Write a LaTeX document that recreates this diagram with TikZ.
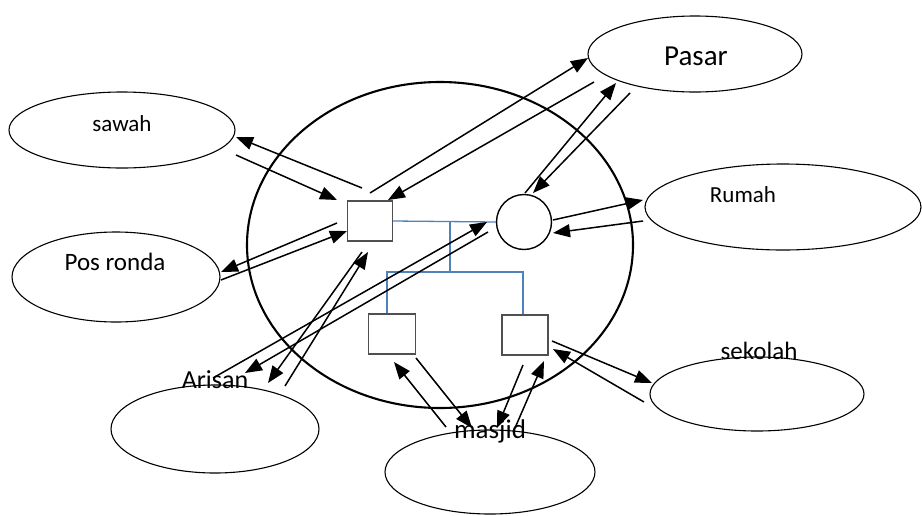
\documentclass[tikz,border=0pt]{standalone}
\usepackage{fontspec}
\setmainfont{Carlito}
\usetikzlibrary{shapes.geometric,arrows.meta}
\definecolor{kinblue}{RGB}{79,129,189}
\definecolor{boxgray}{RGB}{80,80,80}
\begin{document}
\begin{tikzpicture}[x=1pt,y=-1pt,
  place/.style={draw,ellipse,line width=1.1pt,inner sep=0pt},
  lbl/.style={anchor=base,inner sep=0pt},
  male/.style={draw=boxgray,line width=1.4pt,minimum width=45pt,minimum height=40pt,inner sep=0pt},
  female/.style={draw,circle,line width=1.4pt,minimum size=55pt,inner sep=0pt},
  kin/.style={draw=kinblue,line width=1.3pt},
  flow/.style={line width=1.5pt,-{Triangle[length=17pt,width=13pt]}}]
\useasboundingbox (0,0) rectangle (922,515);

% family boundary
\node[draw,ellipse,line width=2.1pt,inner sep=0pt,minimum width=386pt,minimum height=326pt] (fam) at (440,245) {};

% places
\node[place,minimum width=226pt,minimum height=76pt] (sawah) at (122,130) {};
\node[place,minimum width=208pt,minimum height=90pt] (pos) at (116,277) {};
\node[place,minimum width=214pt,minimum height=76pt] (pasar) at (695,54) {};
\node[place,minimum width=276pt,minimum height=86pt] (rumah) at (783,207) {};
\node[place,minimum width=214pt,minimum height=74pt] (sekolah) at (757,394) {};
\node[place,minimum width=208pt,minimum height=88pt] (arisan) at (215,429) {};
\node[place,minimum width=210pt,minimum height=84pt] (masjid) at (490,472) {};

% family members
\node[male] (father) at (370,221) {};
\node[female] (mother) at (524,222) {};
\node[male,minimum width=47pt] (child1) at (392,334) {};
\node[male,minimum width=46pt] (child2) at (525,335) {};

% kinship lines
\coordinate (mid) at (450,221);
\coordinate (sib) at (450,272);
\coordinate (j1) at (387,272);
\coordinate (j2) at (523,272);
\draw[kin] (father.east) -- (mother.west);
\draw[kin] (mid) -- (sib);
\draw[kin] (j1 |- child1.north) -- (j1) -- (j2) -- (j2 |- child2.north);

% labels
\node[lbl,font=\fontsize{23}{23}\selectfont] (tsawah) at (122,131) {sawah};
\node[lbl,font=\fontsize{25}{25}\selectfont] (tpos) at (115,270) {Pos ronda};
\node[lbl,font=\fontsize{29}{29}\selectfont] (tpasar) at (696,65) {Pasar};
\node[lbl,font=\fontsize{23}{23}\selectfont] (trumah) at (743,202) {Rumah};
\node[lbl,font=\fontsize{25}{25}\selectfont] (tsekolah) at (759,359) {sekolah};
\node[lbl,font=\fontsize{26}{26}\selectfont] (tarisan) at (215,388) {Arisan};
\node[lbl,font=\fontsize{27}{27}\selectfont] (tmasjid) at (490,438) {masjid};

% connector end points
\coordinate (fSa) at (362,188);  \coordinate (Saf) at (236,137);
\coordinate (SaF) at (236,155);  \coordinate (fSb) at (337,200);
\coordinate (fPa) at (370,193);  \coordinate (Paf) at (588,58);
\coordinate (PaF) at (594,82);   \coordinate (fPb) at (388,200);
\coordinate (mPa) at (525,193);  \coordinate (Pam) at (616,83);
\coordinate (PaM) at (630,93);   \coordinate (mPb) at (533,193);
\coordinate (mRa) at (553,220);  \coordinate (Ram) at (643,200);
\coordinate (RaM) at (643,221);  \coordinate (mRb) at (553,233);
\coordinate (fPoa) at (337,223); \coordinate (Pof) at (221,272);
\coordinate (PoF) at (221,280);  \coordinate (fPob) at (347,231);
\coordinate (fAa) at (362,252);  \coordinate (Af) at (268,383);
\coordinate (AF) at (285,386);   \coordinate (fAb) at (368,252);
\coordinate (AM) at (213,378);   \coordinate (mAb) at (487,222);
\coordinate (mAa) at (488,232);  \coordinate (Am) at (245,373);
\coordinate (c1Ma) at (416,358); \coordinate (Mc1) at (472,428);
\coordinate (MC1) at (446,427);  \coordinate (c1Mb) at (394,362);
\coordinate (c2Ma) at (523,365); \coordinate (Mc2) at (497,428);
\coordinate (MC2) at (515,428);  \coordinate (c2Mb) at (544,361);
\coordinate (c2Sa) at (552,341); \coordinate (Sc2) at (652,383);
\coordinate (SC2) at (644,402);  \coordinate (c2Sb) at (553,349);

% connectors
\draw[flow] (fSa) -- (Saf);
\draw[flow] (SaF) -- (fSb);
\draw[flow] (fPa) -- (Paf);
\draw[flow] (PaF) -- (fPb);
\draw[flow] (mPa) -- (Pam);
\draw[flow] (PaM) -- (mPb);
\draw[flow] (mRa) -- (Ram);
\draw[flow] (RaM) -- (mRb);
\draw[flow] (fPoa) -- (Pof);
\draw[flow] (PoF) -- (fPob);
\draw[flow] (fAa) -- (Af);
\draw[flow] (AF) -- (fAb);
\draw[flow] (AM) -- (mAb);
\draw[flow] (mAa) -- (Am);
\draw[flow] (c1Ma) -- (Mc1);
\draw[flow] (MC1) -- (c1Mb);
\draw[flow] (c2Ma) -- (Mc2);
\draw[flow] (MC2) -- (c2Mb);
\draw[flow] (c2Sa) -- (Sc2);
\draw[flow] (SC2) -- (c2Sb);
\end{tikzpicture}
\end{document}
